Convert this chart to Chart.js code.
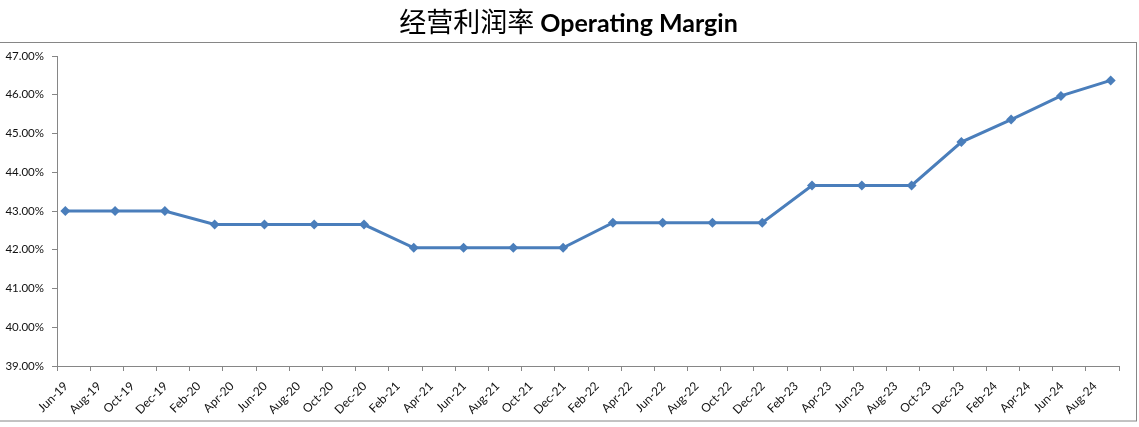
<!DOCTYPE html>
<html>
<head>
<meta charset="utf-8">
<script src="https://cdn.jsdelivr.net/npm/chart.js@4"></script>
<style>
  body { margin: 0; background: #fff; }
</style>
</head>
<body>
<canvas id="margin" width="1139" height="427"></canvas>
<script>
// quarterly data points
var quarters = ['Jun-19','Sep-19','Dec-19','Mar-20','Jun-20','Sep-20','Dec-20','Mar-21','Jun-21','Sep-21','Dec-21',
                'Mar-22','Jun-22','Sep-22','Dec-22','Mar-23','Jun-23','Sep-23','Dec-23','Mar-24','Jun-24','Sep-24'];
var margins = [43.00, 43.00, 43.00, 42.65, 42.65, 42.65, 42.65, 42.05, 42.05, 42.05, 42.05,
               42.70, 42.70, 42.70, 42.70, 43.66, 43.66, 43.66, 44.78, 45.36, 45.97, 46.37];
// axis labels, every two months
var tickLabels = ['Jun-19','Aug-19','Oct-19','Dec-19','Feb-20','Apr-20','Jun-20','Aug-20','Oct-20','Dec-20',
                  'Feb-21','Apr-21','Jun-21','Aug-21','Oct-21','Dec-21','Feb-22','Apr-22','Jun-22','Aug-22',
                  'Oct-22','Dec-22','Feb-23','Apr-23','Jun-23','Aug-23','Oct-23','Dec-23','Feb-24','Apr-24',
                  'Jun-24','Aug-24'];
var titleCn = '经营利润率';
var titleEn = 'Operating Margin';

var MONTHS = ['Jan','Feb','Mar','Apr','May','Jun','Jul','Aug','Sep','Oct','Nov','Dec'];
function monthIndex(lbl) { // months since Jun-19
  var p = lbl.split('-');
  return (parseInt(p[1]) - 19) * 12 + MONTHS.indexOf(p[0]) - 5;
}

var points = [];
for (var i = 0; i < quarters.length; i++) {
  points.push({ x: monthIndex(quarters[i]) + 0.5, y: margins[i] });
}

var axisGray = '#868686';
var textCol = '#111';

var frameAndTitle = {
  id: 'frameAndTitle',
  beforeDraw: function(chart) {
    var c = chart.ctx;
    c.save();
    c.strokeStyle = axisGray;
    c.lineWidth = 1;
    c.strokeRect(-1, 42.5, 1137.5, 378.5);
    c.restore();
  },
  afterDraw: function(chart) {
    var c = chart.ctx;
    c.save();
    var fCn = '27px "Noto Sans CJK SC"';
    var fEn = 'bold 25px Lato';
    c.font = fCn; var wCn = c.measureText(titleCn + ' ').width;
    c.font = fEn; var wEn = c.measureText(titleEn).width;
    var x0 = chart.width / 2 - 1 - (wCn + wEn) / 2;
    c.fillStyle = '#000';
    c.textBaseline = 'alphabetic';
    c.textAlign = 'left';
    c.font = fCn; c.fillText(titleCn + ' ', x0, 32);
    c.font = fEn; c.fillText(titleEn, x0 + wCn, 32);
    c.restore();
  }
};

var ctx = document.getElementById('margin').getContext('2d');
var chart = new Chart(ctx, {
  type: 'line',
  data: {
    datasets: [{
      label: titleEn,
      data: points,
      borderColor: '#4a7ebb',
      backgroundColor: '#4a7ebb',
      borderWidth: 3,
      pointStyle: 'rectRot',
      pointRadius: 5,
      pointBackgroundColor: '#4a7ebb',
      pointBorderWidth: 0,
      tension: 0
    }]
  },
  options: {
    responsive: false,
    animation: false,
    layout: { padding: { top: 56, right: 20, left: 0, bottom: 0 } },
    plugins: {
      legend: { display: false },
      title: { display: false },
      tooltip: { enabled: false }
    },
    scales: {
      x: {
        type: 'linear',
        min: 0,
        max: 64,
        afterFit: function(s) { s.height = 61; },
        border: { color: axisGray, width: 1 },
        grid: { drawOnChartArea: false, drawTicks: true, tickLength: 5, color: axisGray },
        ticks: {
          stepSize: 2,
          autoSkip: false,
          maxRotation: 45,
          minRotation: 45,
          padding: 8,
          labelOffset: 9,
          color: textCol,
          font: { family: 'Lato', size: 12 },
          callback: function(v) { return tickLabels[v / 2] || ''; }
        }
      },
      y: {
        min: 39,
        max: 47,
        afterFit: function(s) { s.width = 57; },
        border: { color: axisGray, width: 1 },
        grid: { drawOnChartArea: false, drawTicks: true, tickLength: 5, color: axisGray },
        ticks: {
          stepSize: 1,
          padding: 8,
          color: textCol,
          font: { family: 'Lato', size: 11.5 },
          callback: function(v) { return v.toFixed(2) + '%'; }
        }
      }
    }
  },
  plugins: [frameAndTitle]
});
</script>
</body>
</html>
